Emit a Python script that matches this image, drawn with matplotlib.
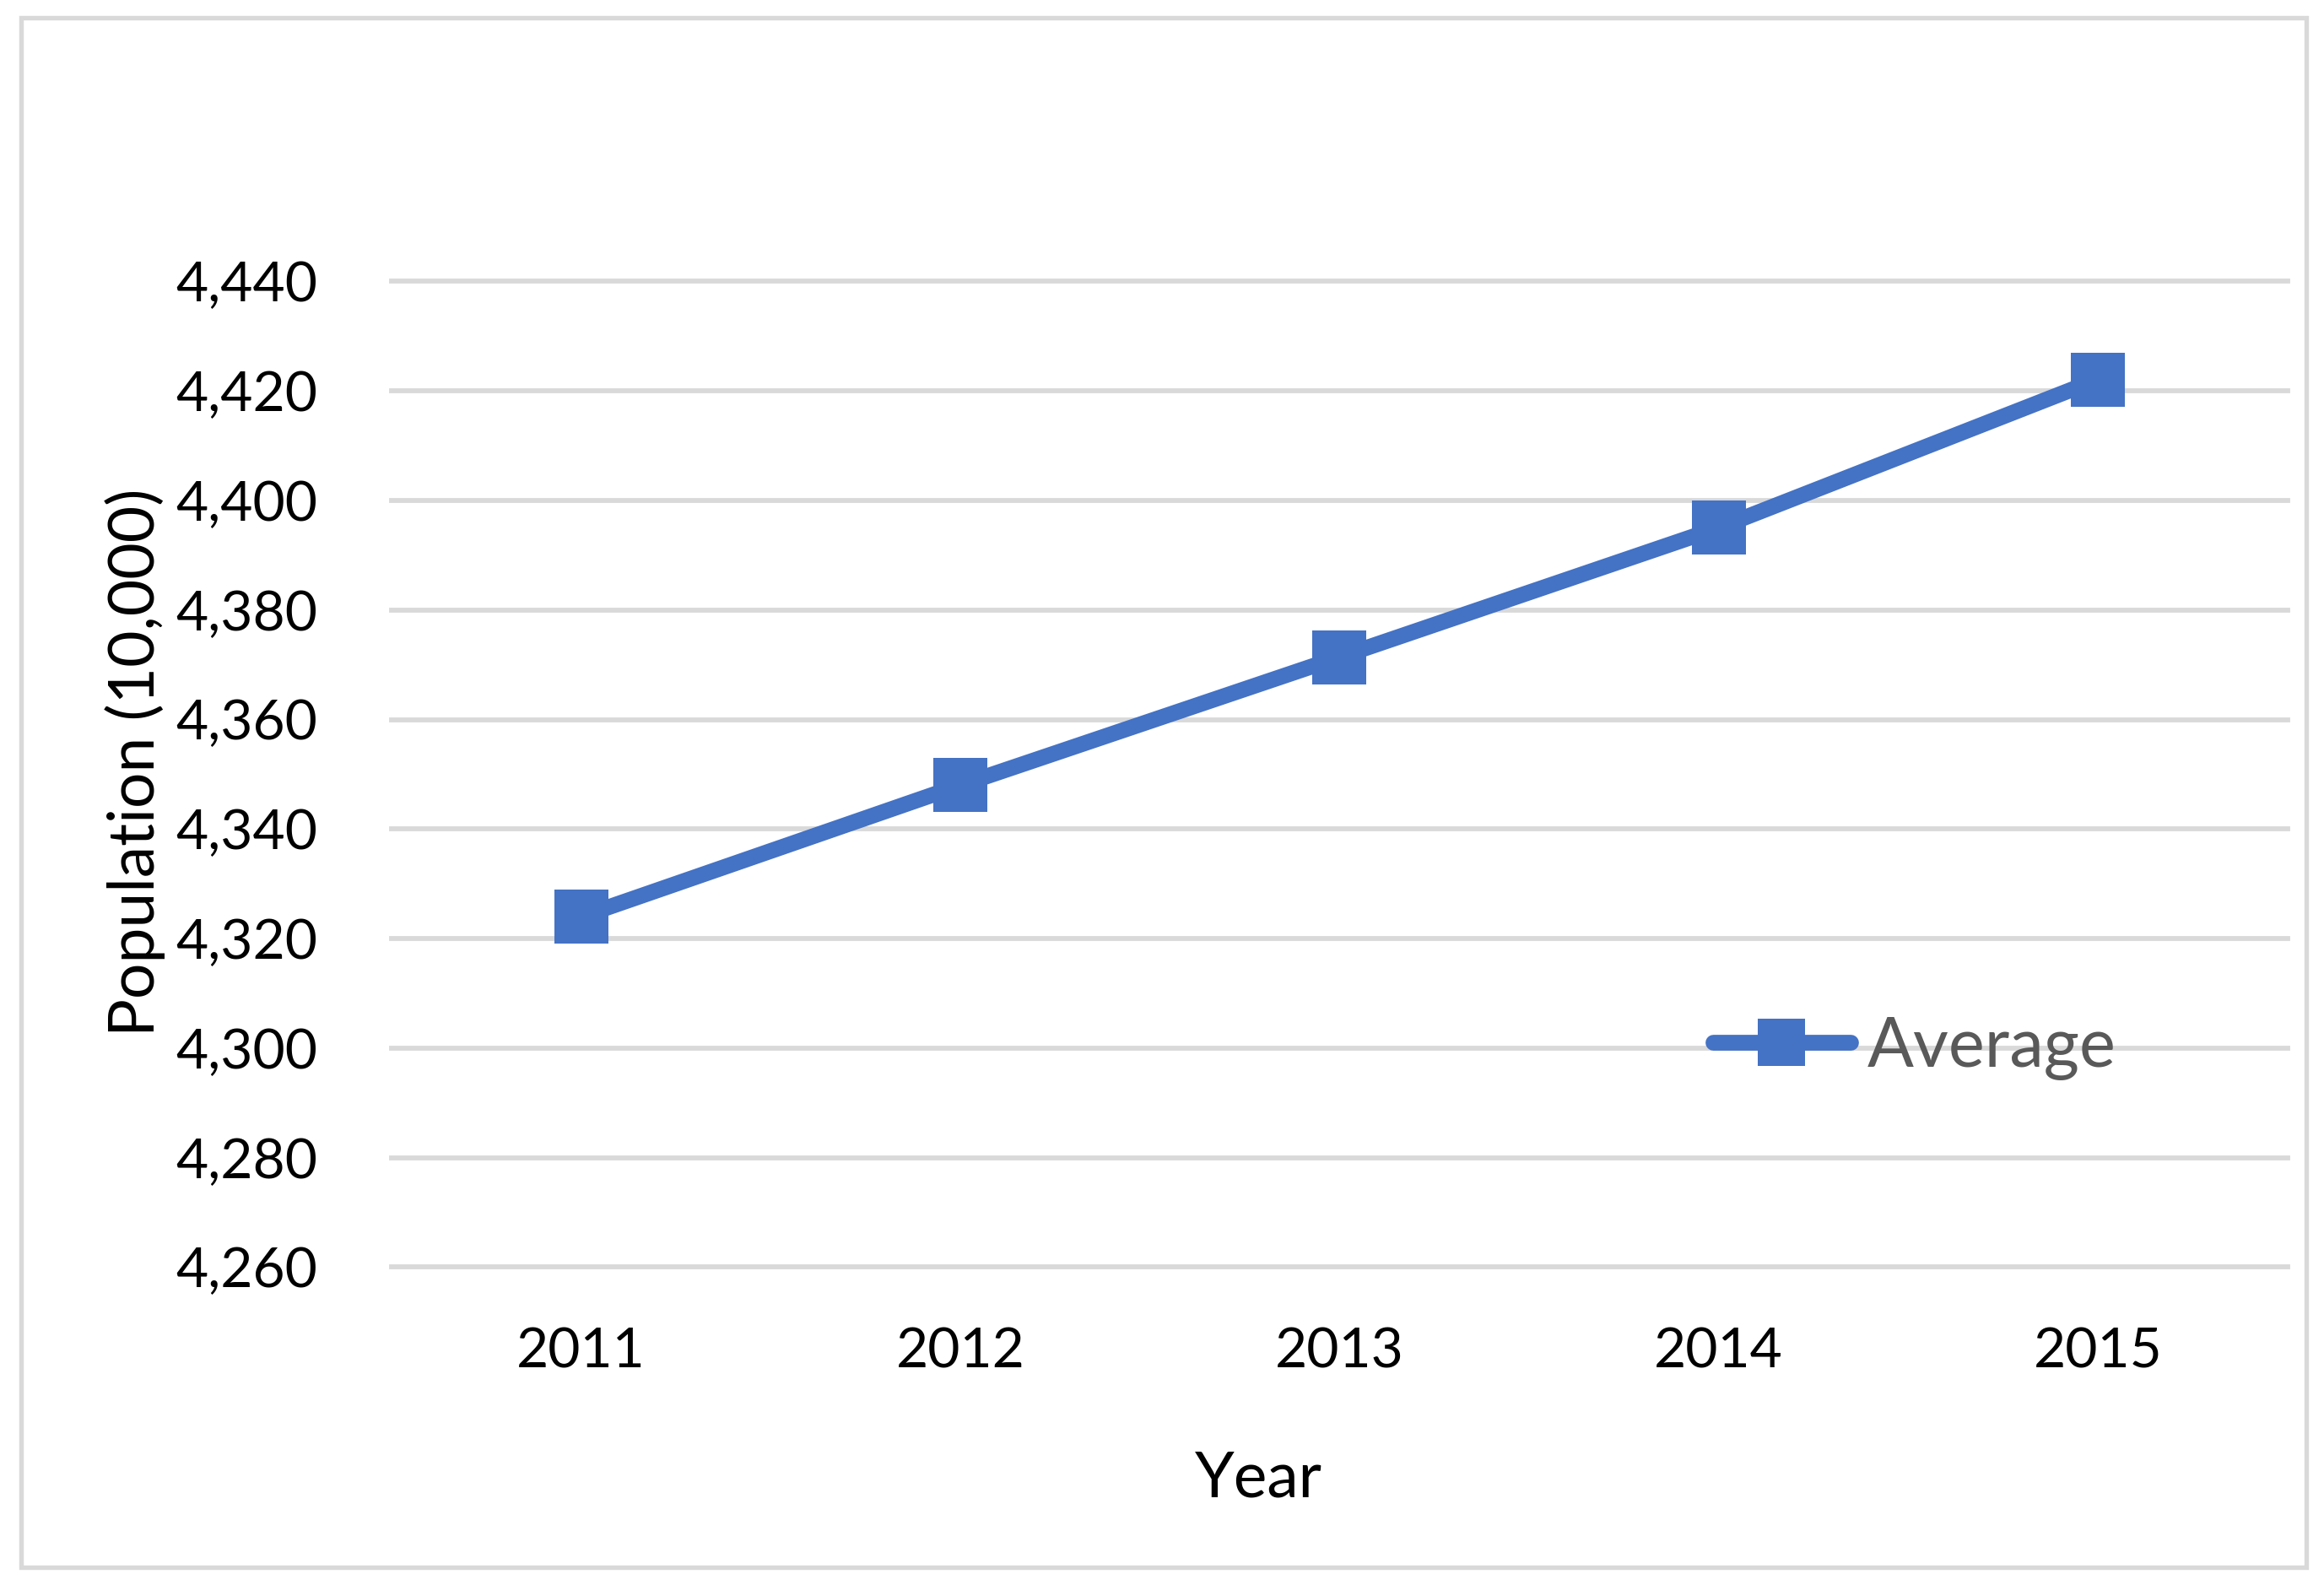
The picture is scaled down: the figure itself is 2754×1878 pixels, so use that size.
import numpy as np
import matplotlib
matplotlib.use("Agg")
import matplotlib.pyplot as plt
from matplotlib.patches import Rectangle
from matplotlib.ticker import FuncFormatter

# -------------------------------------------------------------------------
# Dados
# -------------------------------------------------------------------------
years = ["2011", "2012", "2013", "2014", "2015"]
average = [4324.0, 4348.0, 4371.4, 4395.0, 4422.1]
y_ticks = [4260, 4280, 4300, 4320, 4340, 4360, 4380, 4400, 4420, 4440]

BLUE = "#4472C4"
GRID = "#D9D9D9"

plt.rcParams["font.family"] = ["Lato", "DejaVu Sans"]

fig = plt.figure(figsize=(9.18, 6.26), dpi=300)
ax = fig.add_axes([0.1685, 0.2005, 0.8158, 0.622])

x = np.arange(len(years))
ax.plot(x, average, color=BLUE, linewidth=4.5, marker="s", markersize=15.3,
        markeredgewidth=0, solid_joinstyle="round", solid_capstyle="round",
        label="Average", zorder=3, clip_on=False)

ax.set_xlim(-0.5, len(years) - 0.5)
ax.set_ylim(y_ticks[0], y_ticks[-1])
ax.set_xticks(x)
ax.set_xticklabels(years)
ax.set_yticks(y_ticks)
ax.yaxis.set_major_formatter(FuncFormatter(lambda v, _: f"{v:,.0f}"))

ax.grid(True, axis="y", color=GRID, linewidth=1.4)
ax.grid(False, axis="x")
ax.set_axisbelow(True)
for gl in ax.yaxis.get_gridlines():
    gl.set_clip_on(False)

for sp in ax.spines.values():
    sp.set_visible(False)

ax.tick_params(axis="both", length=0, labelsize=15.8, colors="black")
ax.tick_params(axis="x", pad=17.0)
ax.tick_params(axis="y", pad=21.0)

ax.set_xlabel("Year", fontsize=18, va="top")
ax.xaxis.set_label_coords(0.4571, -0.1853)
ax.set_ylabel("Population (10,000)", fontsize=18, va="center")
ax.yaxis.set_label_coords(-0.1353, 0.512)

leg = ax.legend(loc="center left", bbox_to_anchor=(0.697, 0.2222), frameon=False,
                fontsize=19.5, handlelength=2.0, handletextpad=0.25,
                borderpad=0, borderaxespad=0, markerscale=0.875)
for t in leg.get_texts():
    t.set_color("#595959")

# moldura externa do gráfico
fig.patches.append(Rectangle((25 / 2754, 1 - 1857 / 1878), (2733 - 25) / 2754,
                             (1857 - 21) / 1878, transform=fig.transFigure,
                             fill=False, edgecolor=GRID, linewidth=1.3))

fig.savefig("out.png", dpi=300, facecolor="white")
